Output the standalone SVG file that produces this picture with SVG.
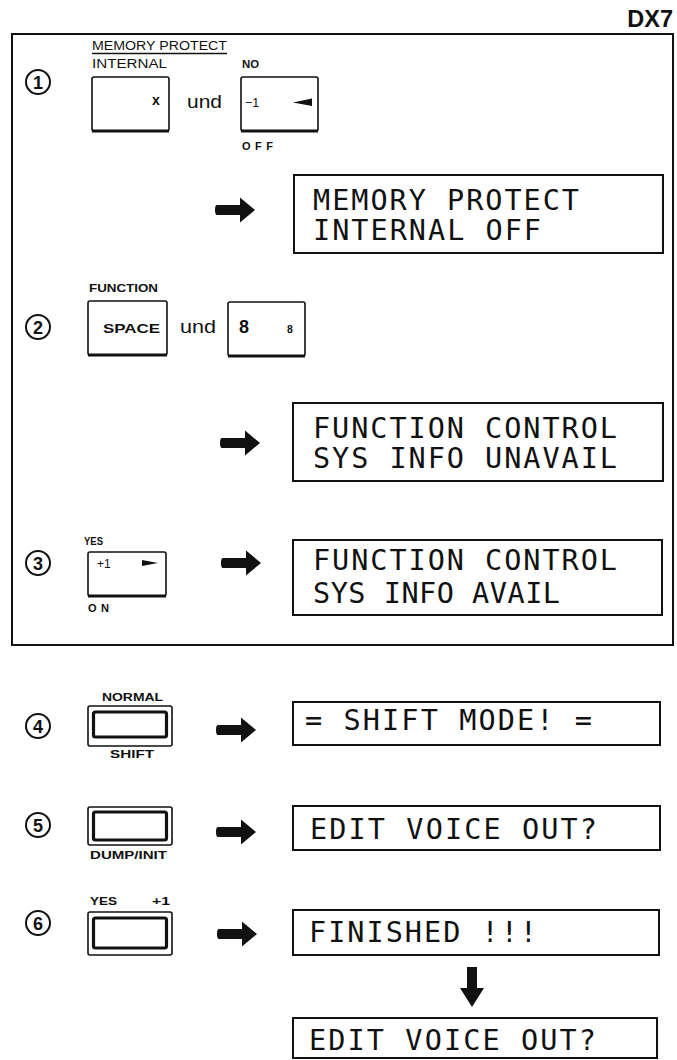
<svg xmlns="http://www.w3.org/2000/svg" xmlns:xlink="http://www.w3.org/1999/xlink" width="677" height="1060" viewBox="0 0 677 1060">
  <style>
    .bg { fill: #ffffff; }
    .frame { fill: none; stroke: #111; stroke-width: 2; }
    .lcd { fill: none; stroke: #111; stroke-width: 2; }
    .lcdtxt { font-family: "DejaVu Sans Mono", "Liberation Mono", monospace; font-size: 28.5px; fill: #111; }
    .key { fill: none; stroke: #111; stroke-width: 1.6; }
    .keybase { stroke: #111; stroke-width: 3; }
    .wide-outer { fill: none; stroke: #111; stroke-width: 1.6; }
    .wide-inner { fill: none; stroke: #111; stroke-width: 3.2; }
    .lbl { font-family: "Liberation Sans", Arial, sans-serif; font-size: 12px; fill: #111; }
    .lblb { font-family: "Liberation Sans", Arial, sans-serif; font-size: 11px; font-weight: bold; fill: #111; }
    .und { font-family: "Liberation Sans", Arial, sans-serif; font-size: 19px; fill: #111; }
    .num { fill: none; stroke: #111; stroke-width: 2; }
    .numtxt { font-family: "Liberation Sans", Arial, sans-serif; font-size: 18px; font-weight: bold; fill: #111; text-anchor: middle; }
    .fill { fill: #111; }
  </style>
  <defs>
    <!-- fat block arrow, tip at the origin, pointing right -->
    <path id="fat-arrow" d="M-38,-5 H-15 V-12.5 L0,0 L-15,12.5 V5 H-38 A2,5 0 0 1 -38,-5 Z"/>
  </defs>

  <rect class="bg" x="0" y="0" width="677" height="1060"/>

  <text x="673" y="27" font-family="Liberation Sans, Arial, sans-serif" font-size="23.5" font-weight="bold" text-anchor="end" fill="#111">DX7</text>

  <!-- boxed section for steps 1-3 -->
  <rect class="frame" x="12" y="34" width="661" height="611"/>

  <!-- step 1 -->
  <g id="step1">
    <circle class="num" cx="38" cy="82" r="12"/>
    <text class="numtxt" x="38" y="88.5">1</text>
    <text class="lbl" x="92" y="50" textLength="135" lengthAdjust="spacingAndGlyphs">MEMORY PROTECT</text>
    <line x1="92" y1="53.5" x2="227" y2="53.5" stroke="#111" stroke-width="1.3"/>
    <text class="lbl" x="92" y="68" textLength="75" lengthAdjust="spacingAndGlyphs">INTERNAL</text>
    <rect class="key" x="92" y="77" width="77" height="54" rx="2"/>
    <line class="keybase" x1="92" y1="131" x2="169" y2="131"/>
    <text x="152" y="105" font-family="Liberation Sans, Arial, sans-serif" font-size="14" font-weight="bold" fill="#111">x</text>
    <text class="und" x="187" y="108" textLength="35" lengthAdjust="spacingAndGlyphs">und</text>
    <text class="lblb" x="242" y="68" textLength="17" lengthAdjust="spacingAndGlyphs">NO</text>
    <rect class="key" x="241" y="77" width="77" height="54" rx="2"/>
    <line class="keybase" x1="241" y1="131" x2="318" y2="131"/>
    <text x="245" y="107" font-family="Liberation Sans, Arial, sans-serif" font-size="12.5" fill="#111">−1</text>
    <polygon class="fill" points="293,102.5 312,98.5 312,106"/>
    <text class="lblb" x="242" y="149.5" textLength="31" lengthAdjust="spacing">OFF</text>
  </g>
  <g id="display1">
    <rect class="lcd" x="294" y="175" width="369" height="78"/>
    <text class="lcdtxt" x="313" y="210" textLength="266" lengthAdjust="spacing">MEMORY PROTECT</text>
    <text class="lcdtxt" x="313" y="240" textLength="228" lengthAdjust="spacing">INTERNAL OFF</text>
  </g>

  <!-- step 2 -->
  <g id="step2">
    <circle class="num" cx="38" cy="327" r="12"/>
    <text class="numtxt" x="38" y="333.5">2</text>
    <text class="lblb" x="89" y="292" textLength="69" lengthAdjust="spacingAndGlyphs">FUNCTION</text>
    <rect class="key" x="88" y="301" width="79" height="54" rx="2"/>
    <line class="keybase" x1="88" y1="355" x2="167" y2="355"/>
    <text x="103" y="333" font-family="Liberation Sans, Arial, sans-serif" font-size="12.5" font-weight="bold" fill="#111" textLength="57" lengthAdjust="spacingAndGlyphs">SPACE</text>
    <text class="und" x="180" y="333" textLength="36" lengthAdjust="spacingAndGlyphs">und</text>
    <rect class="key" x="228" y="302" width="77" height="54" rx="2"/>
    <line class="keybase" x1="228" y1="356" x2="305" y2="356"/>
    <text x="239" y="333" font-family="Liberation Sans, Arial, sans-serif" font-size="18" font-weight="bold" fill="#111">8</text>
    <text x="287" y="333" font-family="Liberation Sans, Arial, sans-serif" font-size="10.5" font-weight="bold" fill="#111">8</text>
  </g>
  <g id="display2">
    <rect class="lcd" x="293" y="403" width="370" height="78"/>
    <text class="lcdtxt" x="313" y="438" textLength="304" lengthAdjust="spacing">FUNCTION CONTROL</text>
    <text class="lcdtxt" x="313" y="468" textLength="304" lengthAdjust="spacing">SYS INFO UNAVAIL</text>
  </g>

  <!-- step 3 -->
  <g id="step3">
    <circle class="num" cx="38" cy="563" r="12"/>
    <text class="numtxt" x="38" y="569.5">3</text>
    <text class="lblb" x="84" y="545" textLength="19" lengthAdjust="spacingAndGlyphs">YES</text>
    <rect class="key" x="88" y="552" width="78" height="44" rx="2"/>
    <line class="keybase" x1="88" y1="596" x2="166" y2="596"/>
    <text x="97" y="568" font-family="Liberation Sans, Arial, sans-serif" font-size="12" fill="#111">+1</text>
    <polygon class="fill" points="142,560 158,563 142,566"/>
    <text class="lblb" x="88" y="612" textLength="21" lengthAdjust="spacing">ON</text>
  </g>
  <g id="display3">
    <rect class="lcd" x="293" y="540" width="369" height="75"/>
    <text class="lcdtxt" x="313" y="570" textLength="304" lengthAdjust="spacing">FUNCTION CONTROL</text>
    <text class="lcdtxt" x="313" y="603" textLength="247" lengthAdjust="spacing">SYS INFO AVAIL</text>
  </g>

  <!-- step 4 -->
  <g id="step4">
    <circle class="num" cx="38" cy="726" r="12"/>
    <text class="numtxt" x="38" y="732.5">4</text>
    <text class="lblb" x="102" y="701" textLength="61" lengthAdjust="spacingAndGlyphs">NORMAL</text>
    <rect class="wide-outer" x="88" y="706" width="84" height="40" rx="2"/>
    <rect class="wide-inner" x="93.5" y="712" width="73" height="25" rx="2"/>
    <text class="lblb" x="110" y="758" textLength="44" lengthAdjust="spacingAndGlyphs">SHIFT</text>
  </g>
  <g id="display4">
    <rect class="lcd" x="293" y="702" width="367" height="43"/>
    <text class="lcdtxt" x="305" y="730" textLength="287" lengthAdjust="spacing">= SHIFT MODE! =</text>
  </g>

  <!-- step 5 -->
  <g id="step5">
    <circle class="num" cx="38" cy="825" r="12"/>
    <text class="numtxt" x="38" y="831.5">5</text>
    <rect class="wide-outer" x="88" y="807" width="84" height="38" rx="2"/>
    <rect class="wide-inner" x="93.5" y="812" width="73" height="28" rx="2"/>
    <text class="lblb" x="90" y="859" textLength="77" lengthAdjust="spacingAndGlyphs">DUMP/INIT</text>
  </g>
  <g id="display5">
    <rect class="lcd" x="293" y="806" width="367" height="44"/>
    <text class="lcdtxt" x="310" y="839" textLength="287" lengthAdjust="spacing">EDIT VOICE OUT?</text>
  </g>

  <!-- step 6 -->
  <g id="step6">
    <circle class="num" cx="38" cy="923" r="12"/>
    <text class="numtxt" x="38" y="929.5">6</text>
    <text class="lblb" x="90" y="905" textLength="27" lengthAdjust="spacingAndGlyphs">YES</text>
    <text class="lblb" x="152" y="905" textLength="18" lengthAdjust="spacingAndGlyphs">+1</text>
    <rect class="wide-outer" x="88" y="912" width="84" height="43" rx="2"/>
    <rect class="wide-inner" x="93.5" y="918" width="73" height="30" rx="2"/>
  </g>
  <g id="display6">
    <rect class="lcd" x="293" y="910" width="366" height="45"/>
    <text class="lcdtxt" x="309" y="942" textLength="228" lengthAdjust="spacing">FINISHED !!!</text>
  </g>
  <g id="display7">
    <rect class="lcd" x="293" y="1018" width="364" height="40"/>
    <text class="lcdtxt" x="309" y="1050" textLength="287" lengthAdjust="spacing">EDIT VOICE OUT?</text>
  </g>

  <!-- block arrows between the key presses and the displays -->
  <g id="connectors" class="fill">
    <use xlink:href="#fat-arrow" transform="translate(255,210)"/>
    <use xlink:href="#fat-arrow" transform="translate(260,443)"/>
    <use xlink:href="#fat-arrow" transform="translate(261,563)"/>
    <use xlink:href="#fat-arrow" transform="translate(256,730)"/>
    <use xlink:href="#fat-arrow" transform="translate(256,832)"/>
    <use xlink:href="#fat-arrow" transform="translate(257,934)"/>
    <path d="M467,967 H477 V988 H484 L472,1007 L460,988 H467 Z"/>
  </g>
</svg>
